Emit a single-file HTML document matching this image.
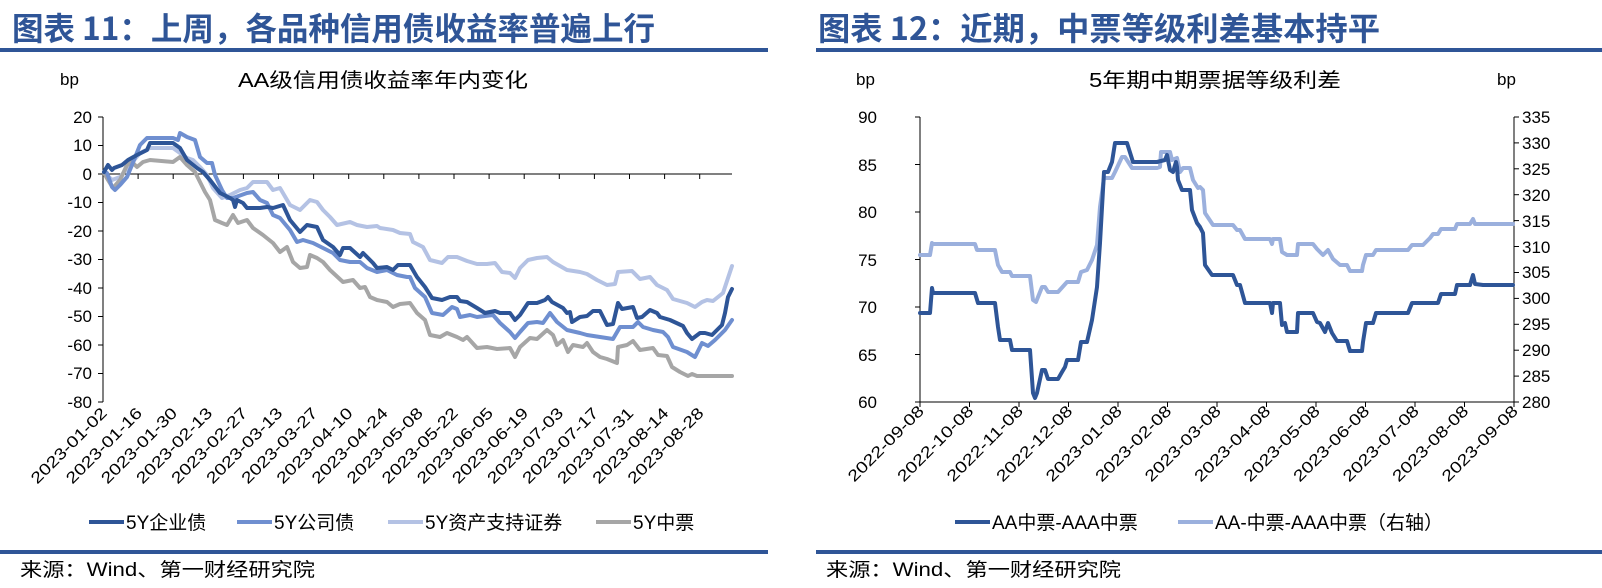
<!DOCTYPE html>
<html><head><meta charset="utf-8"><style>
html,body{margin:0;padding:0;background:#fff;}
svg{display:block;}
text{font-family:"Liberation Sans","Noto Sans CJK SC",sans-serif;fill:#000;}
.t{font-family:"Noto Sans CJK SC","WenQuanYi Zen Hei",sans-serif;font-weight:bold;fill:#2F5597;font-size:32px;}
.ax{font-size:17px;}
.xl{font-size:16px;}
.s{fill:none;stroke-width:4;stroke-linejoin:round;stroke-linecap:round;}
</style></head><body>
<svg width="1602" height="588" viewBox="0 0 1602 588" xmlns="http://www.w3.org/2000/svg">
<!-- titles -->
<text class="t" x="12" y="40" textLength="643" lengthAdjust="spacingAndGlyphs">图表 11：上周，各品种信用债收益率普遍上行</text>
<text class="t" x="818" y="40" textLength="562" lengthAdjust="spacingAndGlyphs">图表 12：近期，中票等级利差基本持平</text>
<rect x="0" y="48" width="768" height="4" fill="#2F5597"/>
<rect x="816" y="48" width="786" height="4" fill="#2F5597"/>
<rect x="0" y="550" width="768" height="4" fill="#2F5597"/>
<rect x="816" y="550" width="786" height="4" fill="#2F5597"/>
<text x="20" y="576" font-size="19" textLength="295" lengthAdjust="spacingAndGlyphs">来源：Wind、第一财经研究院</text>
<text x="826" y="576" font-size="19" textLength="295" lengthAdjust="spacingAndGlyphs">来源：Wind、第一财经研究院</text>

<!-- LEFT CHART -->
<text x="60" y="85" font-size="17">bp</text>
<text x="383" y="87" font-size="20" text-anchor="middle" textLength="290" lengthAdjust="spacingAndGlyphs">AA级信用债收益率年内变化</text>
<g stroke="#000" stroke-width="1">
<line x1="103" y1="117" x2="103" y2="402"/>
<line x1="103" y1="174" x2="732" y2="174"/>
<line x1="98" y1="117" x2="103" y2="117"/><line x1="98" y1="145.5" x2="103" y2="145.5"/><line x1="98" y1="174" x2="103" y2="174"/>
<line x1="98" y1="202.5" x2="103" y2="202.5"/><line x1="98" y1="231" x2="103" y2="231"/><line x1="98" y1="259.5" x2="103" y2="259.5"/>
<line x1="98" y1="288" x2="103" y2="288"/><line x1="98" y1="316.5" x2="103" y2="316.5"/><line x1="98" y1="345" x2="103" y2="345"/>
<line x1="98" y1="373.5" x2="103" y2="373.5"/><line x1="98" y1="402" x2="103" y2="402"/>
</g>
<g class="ax" text-anchor="end">
<text x="92" y="123">20</text><text x="92" y="151">10</text><text x="92" y="180">0</text>
<text x="92" y="208">-10</text><text x="92" y="237">-20</text><text x="92" y="265">-30</text>
<text x="92" y="294">-40</text><text x="92" y="322">-50</text><text x="92" y="351">-60</text>
<text x="92" y="379">-70</text><text x="92" y="408">-80</text>
</g>
<g stroke="#000" stroke-width="1">
<line x1="138.1" y1="174" x2="138.1" y2="179"/><line x1="173.2" y1="174" x2="173.2" y2="179"/><line x1="208.3" y1="174" x2="208.3" y2="179"/>
<line x1="243.4" y1="174" x2="243.4" y2="179"/><line x1="278.5" y1="174" x2="278.5" y2="179"/><line x1="313.6" y1="174" x2="313.6" y2="179"/>
<line x1="348.7" y1="174" x2="348.7" y2="179"/><line x1="383.8" y1="174" x2="383.8" y2="179"/><line x1="418.9" y1="174" x2="418.9" y2="179"/>
<line x1="454" y1="174" x2="454" y2="179"/><line x1="489.1" y1="174" x2="489.1" y2="179"/><line x1="524.2" y1="174" x2="524.2" y2="179"/>
<line x1="559.3" y1="174" x2="559.3" y2="179"/><line x1="594.4" y1="174" x2="594.4" y2="179"/><line x1="629.5" y1="174" x2="629.5" y2="179"/>
<line x1="664.6" y1="174" x2="664.6" y2="179"/><line x1="699.7" y1="174" x2="699.7" y2="179"/>
</g>
<g class="xl" text-anchor="end">
<text transform="translate(108,414) rotate(-45)" textLength="100" lengthAdjust="spacingAndGlyphs">2023-01-02</text>
<text transform="translate(143.1,414) rotate(-45)" textLength="100" lengthAdjust="spacingAndGlyphs">2023-01-16</text>
<text transform="translate(178.2,414) rotate(-45)" textLength="100" lengthAdjust="spacingAndGlyphs">2023-01-30</text>
<text transform="translate(213.3,414) rotate(-45)" textLength="100" lengthAdjust="spacingAndGlyphs">2023-02-13</text>
<text transform="translate(248.4,414) rotate(-45)" textLength="100" lengthAdjust="spacingAndGlyphs">2023-02-27</text>
<text transform="translate(283.5,414) rotate(-45)" textLength="100" lengthAdjust="spacingAndGlyphs">2023-03-13</text>
<text transform="translate(318.6,414) rotate(-45)" textLength="100" lengthAdjust="spacingAndGlyphs">2023-03-27</text>
<text transform="translate(353.7,414) rotate(-45)" textLength="100" lengthAdjust="spacingAndGlyphs">2023-04-10</text>
<text transform="translate(388.8,414) rotate(-45)" textLength="100" lengthAdjust="spacingAndGlyphs">2023-04-24</text>
<text transform="translate(423.9,414) rotate(-45)" textLength="100" lengthAdjust="spacingAndGlyphs">2023-05-08</text>
<text transform="translate(459,414) rotate(-45)" textLength="100" lengthAdjust="spacingAndGlyphs">2023-05-22</text>
<text transform="translate(494.1,414) rotate(-45)" textLength="100" lengthAdjust="spacingAndGlyphs">2023-06-05</text>
<text transform="translate(529.2,414) rotate(-45)" textLength="100" lengthAdjust="spacingAndGlyphs">2023-06-19</text>
<text transform="translate(564.3,414) rotate(-45)" textLength="100" lengthAdjust="spacingAndGlyphs">2023-07-03</text>
<text transform="translate(599.4,414) rotate(-45)" textLength="100" lengthAdjust="spacingAndGlyphs">2023-07-17</text>
<text transform="translate(634.5,414) rotate(-45)" textLength="100" lengthAdjust="spacingAndGlyphs">2023-07-31</text>
<text transform="translate(669.6,414) rotate(-45)" textLength="100" lengthAdjust="spacingAndGlyphs">2023-08-14</text>
<text transform="translate(704.7,414) rotate(-45)" textLength="100" lengthAdjust="spacingAndGlyphs">2023-08-28</text>
</g>
<!-- series -->
<polyline class="s" stroke="#B4C2E4" points="104,172 112,180 120,177 130,165 140,153 150,148 173,148 180,153 187,158 193,160 200,167 207,175 213,188 222,198 230,195 240,190 247,188 253,182 267,182 273,190 280,188 290,205 300,210 310,200 317,202 323,210 330,217 337,225 350,222 357,225 367,227 377,226 380,228 393,230 400,233 410,234 413,242 423,247 430,260 442,263 448,257 457,257 467,261 477,264 487,264 495,263 502,272 510,273 515,278 520,268 528,260 537,258 547,257 553,262 567,270 580,272 587,274 597,280 607,285 615,284 618,272 632,271 640,279 650,277 657,285 667,290 673,299 687,303 695,307 702,302 707,300 713,301 723,293 732,266"/>
<polyline class="s" stroke="#A6A6A6" points="104,173 108,180 113,188 120,180 127,165 132,162 137,167 143,162 150,160 173,162 180,157 187,165 195,172 200,182 205,192 210,200 215,220 222,223 227,225 233,215 238,223 247,220 253,228 263,235 273,243 280,252 287,247 293,262 300,268 307,267 310,255 317,258 323,262 330,270 343,282 353,280 360,288 365,287 370,297 377,300 387,302 393,307 400,304 410,303 417,313 425,320 430,335 440,337 447,333 457,337 463,340 467,337 477,348 487,347 497,349 510,348 515,357 520,347 530,338 537,339 547,330 553,335 557,345 563,340 568,352 573,345 583,347 587,343 593,352 600,357 607,359 617,363 618,347 627,345 633,341 640,350 653,348 658,355 667,356 672,367 680,372 688,376 692,374 697,376 732,376"/>
<polyline class="s" stroke="#6F8FD0" points="104,172 107,173 112,187 115,190 120,185 127,177 132,165 140,145 147,138 173,138 178,140 180,133 187,137 195,140 200,157 207,163 212,163 215,175 222,190 227,198 233,198 247,193 253,192 260,200 267,203 273,215 280,218 290,230 297,242 303,240 313,243 323,248 333,253 340,260 350,262 360,262 367,268 377,272 387,270 397,275 407,277 410,277 415,288 425,297 432,313 443,315 452,307 457,309 460,317 470,315 477,317 493,315 500,323 510,332 515,338 520,332 528,323 537,322 543,323 550,313 557,322 567,330 580,333 587,335 600,337 613,339 620,327 633,327 638,322 643,327 653,330 663,332 668,337 673,347 687,352 695,357 702,343 708,346 715,340 725,330 732,320"/>
<polyline class="s" stroke="#2E5597" points="104,172 108,165 112,170 114,168 122,165 128,160 137,155 147,150 150,143 173,143 180,148 187,160 197,168 203,172 210,180 220,193 230,198 233,200 235,207 237,200 243,203 247,208 260,208 267,207 273,208 283,205 290,220 300,232 307,225 317,227 323,240 333,247 340,255 343,248 350,248 360,257 363,253 373,263 377,268 387,267 393,270 398,265 410,265 417,277 425,287 432,298 442,300 450,297 457,297 460,301 467,302 477,308 485,313 495,311 500,313 510,313 515,320 520,315 528,303 537,303 545,300 548,297 552,302 563,308 567,313 570,312 572,322 580,317 587,316 593,311 600,311 607,325 613,324 618,303 622,309 633,307 637,318 642,317 650,310 657,313 660,317 670,320 683,326 687,333 692,339 700,333 705,333 712,335 722,325 725,313 728,297 732,289"/>
<!-- left legend -->
<g stroke-width="4">
<line x1="89" y1="522" x2="124" y2="522" stroke="#2E5597"/>
<line x1="237" y1="522" x2="272" y2="522" stroke="#6F8FD0"/>
<line x1="388" y1="522" x2="423" y2="522" stroke="#B4C2E4"/>
<line x1="596" y1="522" x2="631" y2="522" stroke="#A6A6A6"/>
</g>
<g font-size="19">
<text x="126" y="529">5Y企业债</text>
<text x="274" y="529">5Y公司债</text>
<text x="425" y="529">5Y资产支持证券</text>
<text x="633" y="529">5Y中票</text>
</g>

<!-- RIGHT CHART -->
<text x="856" y="85" font-size="17">bp</text>
<text x="1497" y="85" font-size="17">bp</text>
<text x="1215" y="87" font-size="20" text-anchor="middle" textLength="252" lengthAdjust="spacingAndGlyphs">5年期中期票据等级利差</text>
<g stroke="#000" stroke-width="1">
<line x1="920" y1="117" x2="920" y2="402"/>
<line x1="1514" y1="117" x2="1514" y2="402"/>
<line x1="920" y1="402" x2="1514" y2="402"/>
<line x1="915" y1="117" x2="920" y2="117"/><line x1="915" y1="164.5" x2="920" y2="164.5"/><line x1="915" y1="212" x2="920" y2="212"/>
<line x1="915" y1="259.5" x2="920" y2="259.5"/><line x1="915" y1="307" x2="920" y2="307"/><line x1="915" y1="354.5" x2="920" y2="354.5"/><line x1="915" y1="402" x2="920" y2="402"/>
<line x1="1514" y1="117" x2="1519" y2="117"/><line x1="1514" y1="142.9" x2="1519" y2="142.9"/><line x1="1514" y1="168.8" x2="1519" y2="168.8"/>
<line x1="1514" y1="194.7" x2="1519" y2="194.7"/><line x1="1514" y1="220.6" x2="1519" y2="220.6"/><line x1="1514" y1="246.5" x2="1519" y2="246.5"/>
<line x1="1514" y1="272.5" x2="1519" y2="272.5"/><line x1="1514" y1="298.4" x2="1519" y2="298.4"/><line x1="1514" y1="324.3" x2="1519" y2="324.3"/>
<line x1="1514" y1="350.2" x2="1519" y2="350.2"/><line x1="1514" y1="376.1" x2="1519" y2="376.1"/><line x1="1514" y1="402" x2="1519" y2="402"/>
<line x1="920" y1="402" x2="920" y2="407"/><line x1="969.5" y1="402" x2="969.5" y2="407"/><line x1="1019" y1="402" x2="1019" y2="407"/>
<line x1="1068.5" y1="402" x2="1068.5" y2="407"/><line x1="1118" y1="402" x2="1118" y2="407"/><line x1="1167.5" y1="402" x2="1167.5" y2="407"/>
<line x1="1217" y1="402" x2="1217" y2="407"/><line x1="1266.5" y1="402" x2="1266.5" y2="407"/><line x1="1316" y1="402" x2="1316" y2="407"/>
<line x1="1365.5" y1="402" x2="1365.5" y2="407"/><line x1="1415" y1="402" x2="1415" y2="407"/><line x1="1464.5" y1="402" x2="1464.5" y2="407"/><line x1="1514" y1="402" x2="1514" y2="407"/>
</g>
<g class="ax" text-anchor="end">
<text x="877" y="123">90</text><text x="877" y="171">85</text><text x="877" y="218">80</text>
<text x="877" y="266">75</text><text x="877" y="313">70</text><text x="877" y="361">65</text><text x="877" y="408">60</text>
</g>
<g class="ax">
<text x="1522" y="123">335</text><text x="1522" y="149">330</text><text x="1522" y="175">325</text>
<text x="1522" y="201">320</text><text x="1522" y="227">315</text><text x="1522" y="253">310</text>
<text x="1522" y="278">305</text><text x="1522" y="304">300</text><text x="1522" y="330">295</text>
<text x="1522" y="356">290</text><text x="1522" y="382">285</text><text x="1522" y="408">280</text>
</g>
<g class="xl" text-anchor="end">
<text transform="translate(925,412) rotate(-45)" textLength="100" lengthAdjust="spacingAndGlyphs">2022-09-08</text>
<text transform="translate(974.5,412) rotate(-45)" textLength="100" lengthAdjust="spacingAndGlyphs">2022-10-08</text>
<text transform="translate(1024,412) rotate(-45)" textLength="100" lengthAdjust="spacingAndGlyphs">2022-11-08</text>
<text transform="translate(1073.5,412) rotate(-45)" textLength="100" lengthAdjust="spacingAndGlyphs">2022-12-08</text>
<text transform="translate(1123,412) rotate(-45)" textLength="100" lengthAdjust="spacingAndGlyphs">2023-01-08</text>
<text transform="translate(1172.5,412) rotate(-45)" textLength="100" lengthAdjust="spacingAndGlyphs">2023-02-08</text>
<text transform="translate(1222,412) rotate(-45)" textLength="100" lengthAdjust="spacingAndGlyphs">2023-03-08</text>
<text transform="translate(1271.5,412) rotate(-45)" textLength="100" lengthAdjust="spacingAndGlyphs">2023-04-08</text>
<text transform="translate(1321,412) rotate(-45)" textLength="100" lengthAdjust="spacingAndGlyphs">2023-05-08</text>
<text transform="translate(1370.5,412) rotate(-45)" textLength="100" lengthAdjust="spacingAndGlyphs">2023-06-08</text>
<text transform="translate(1420,412) rotate(-45)" textLength="100" lengthAdjust="spacingAndGlyphs">2023-07-08</text>
<text transform="translate(1469.5,412) rotate(-45)" textLength="100" lengthAdjust="spacingAndGlyphs">2023-08-08</text>
<text transform="translate(1519,412) rotate(-45)" textLength="100" lengthAdjust="spacingAndGlyphs">2023-09-08</text>
</g>
<polyline class="s" stroke="#9BB0DD" points="920,255 930,255 932,243 933,244 975,244 977,250 995,250 998,265 1002,272 1010,272 1012,276 1030,276 1033,300 1036,302 1042,287 1045,287 1048,292 1058,292 1067,282 1078,282 1081,272 1087,270 1092,260 1097,245 1100,207 1104,178 1112,178 1115,172 1122,157 1125,157 1132,168 1157,168 1160,167 1161,152 1170,152 1172,160 1177,158 1180,172 1183,168 1190,168 1193,180 1198,188 1200,187 1203,190 1205,213 1213,225 1233,225 1237,230 1240,230 1245,239 1270,239 1272,244 1273,239 1280,239 1282,252 1287,255 1297,255 1298,244 1313,244 1317,249 1323,255 1328,250 1333,259 1340,265 1347,265 1350,271 1362,271 1363,265 1366,255 1373,255 1376,250 1408,250 1412,245 1423,245 1430,238 1433,234 1438,234 1441,229 1455,229 1457,224 1470,224 1473,219 1475,224 1483,224 1513,224"/>
<polyline class="s" stroke="#2E5597" points="920,313 930,313 932,288 933,293 975,293 978,303 995,303 998,327 1000,340 1010,340 1012,350 1030,350 1033,393 1035,398 1037,393 1042,370 1045,370 1048,379 1058,379 1062,372 1065,367 1067,360 1078,360 1081,342 1087,342 1092,320 1097,287 1100,243 1104,172 1108,172 1112,162 1115,143 1127,143 1133,162 1157,162 1165,160 1167,155 1168,160 1170,170 1173,172 1176,162 1177,167 1178,180 1182,190 1190,190 1192,210 1197,223 1200,227 1203,233 1205,265 1212,275 1233,275 1237,285 1240,285 1245,303 1270,303 1272,313 1273,303 1280,303 1282,325 1285,323 1287,332 1297,332 1298,313 1313,313 1317,322 1320,323 1325,332 1328,323 1332,333 1337,341 1347,341 1350,351 1362,351 1363,342 1366,323 1373,323 1376,313 1408,313 1412,303 1438,303 1441,294 1455,294 1457,285 1470,285 1473,275 1475,284 1483,285 1513,285"/>
<g stroke-width="4">
<line x1="955" y1="522" x2="990" y2="522" stroke="#2E5597"/>
<line x1="1178" y1="522" x2="1213" y2="522" stroke="#9BB0DD"/>
</g>
<g font-size="19">
<text x="992" y="529">AA中票-AAA中票</text>
<text x="1215" y="529">AA-中票-AAA中票（右轴）</text>
</g>
</svg>
</body></html>
